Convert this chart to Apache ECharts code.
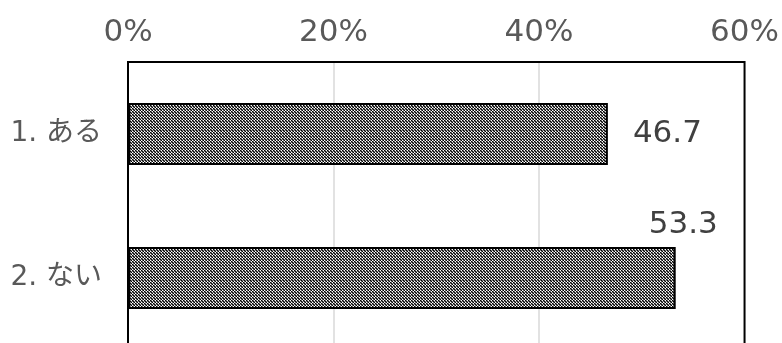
<!DOCTYPE html>
<html>
<head>
<meta charset="utf-8">
<script src="https://cdn.jsdelivr.net/npm/echarts@6/dist/echarts.min.js"></script>
<style>
html,body{margin:0;padding:0;background:#fff;overflow:hidden;}
#chart{width:782px;height:350px;}
</style>
</head>
<body>
<div id="chart"></div>
<script>
const categories = ['1. ある', '2. ない'];
const values = [46.7, 53.3];
const tickLabels = ['0%', '20%', '40%', '60%'];

function makePattern() {
  const c = document.createElement('canvas');
  c.width = 3; c.height = 3;
  const ctx = c.getContext('2d');
  const B = '#000000', G = '#7a7a7a', W = '#ffffff';
  const grid = [[B, G, W], [G, B, G], [W, G, B]];
  for (let y = 0; y < 3; y++) for (let x = 0; x < 3; x++) {
    ctx.fillStyle = grid[y][x];
    ctx.fillRect(x, y, 1, 1);
  }
  return c;
}

const fontFam = 'DejaVu Sans, Noto Sans CJK JP, sans-serif';
const chart = echarts.init(document.getElementById('chart'), null, {renderer: 'canvas'});
chart.setOption({
  animation: false,
  grid: {left: 128, top: 62, right: 37, bottom: 0, containLabel: false, show: true, borderColor: '#000', borderWidth: 2, backgroundColor: 'transparent', z: 10},
  xAxis: {
    type: 'value', position: 'top', min: 0, max: 60, interval: 20,
    axisLine: {show: false}, axisTick: {show: false},
    splitLine: {show: true, showMinLine: false, showMaxLine: false, lineStyle: {color: '#d9d9d9', width: 1.5}},
    axisLabel: {
      margin: 14, color: '#595959', fontSize: 31, fontFamily: fontFam,
      formatter: function (v) { return tickLabels[Math.round(v / 20)]; }
    }
  },
  yAxis: {
    type: 'category', data: categories, inverse: true,
    axisLine: {show: false}, axisTick: {show: false},
    axisLabel: {margin: 26, color: '#595959', fontSize: 28, fontFamily: fontFam}
  },
  series: [{
    type: 'bar',
    data: values.map(function (v, i) {
      return i === 1
        ? {value: v, label: {position: 'right', distance: 0, offset: [-27, -53]}}
        : {value: v, label: {position: 'right', distance: 25}};
    }),
    barWidth: 62,
    itemStyle: {color: {image: makePattern(), repeat: 'repeat'}, borderColor: '#000', borderWidth: 2},
    label: {show: true, color: '#404040', fontSize: 31, fontFamily: fontFam, formatter: function (p) { return p.value.toFixed(1); }}
  }]
});
</script>
</body>
</html>
